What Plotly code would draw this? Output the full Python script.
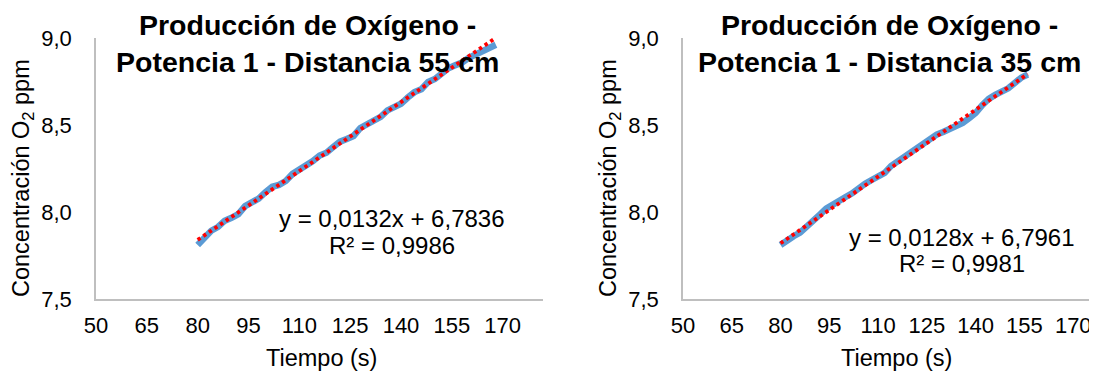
import plotly.graph_objects as go

# The page body has an 8px default margin, so the figure is sized to fill
# the rest of the 1097x374 window; positions below are window pixels.
OFF = 8
W, H = 1097 - OFF, 374 - OFF

# ---------------- data ----------------
TITLE_LEFT = "Producción de Oxígeno -<br>Potencia 1 - Distancia 55 cm"
TITLE_RIGHT = "Producción de Oxígeno -<br>Potencia 1 - Distancia 35 cm"
X_TITLE = "Tiempo (s)"
Y_TITLE = "Concentración O<sub>2</sub> ppm"

X_TICKS = [50, 65, 80, 95, 110, 125, 140, 155, 170]
Y_TICKS = [7.5, 8.0, 8.5, 9.0]

time_55 = [80, 82, 84, 86, 88, 90, 92, 94, 96, 98, 100, 102, 104, 106, 108,
           110, 112, 114, 116, 118, 120, 122, 124, 126, 128, 130, 132, 134,
           136, 138, 140, 142, 144, 146, 148, 150, 152, 154, 156, 158, 160,
           162, 164, 166, 168]
o2_55 = [7.810, 7.856, 7.892, 7.914, 7.950, 7.967, 7.988, 8.034, 8.056, 8.077,
         8.114, 8.145, 8.156, 8.178, 8.219, 8.241, 8.262, 8.293, 8.325, 8.341,
         8.373, 8.404, 8.420, 8.437, 8.483, 8.505, 8.526, 8.547, 8.584, 8.605,
         8.622, 8.658, 8.689, 8.706, 8.747, 8.764, 8.795, 8.826, 8.843, 8.859,
         8.886, 8.907, 8.928, 8.950, 8.961]
slope_55, intercept_55 = 0.0132, 6.7836
eq_55 = "y = 0,0132x + 6,7836"
r2_55 = "R² = 0,9986"

time_35 = [80, 82, 84, 86, 88, 90, 92, 94, 96, 98, 100, 102, 104, 106, 108,
           110, 112, 114, 116, 118, 120, 122, 124, 126, 128, 130, 132, 134,
           136, 138, 140, 142, 144, 146, 148, 150, 152, 154, 156]
o2_35 = [7.810, 7.841, 7.861, 7.882, 7.913, 7.948, 7.984, 8.019, 8.045, 8.061,
         8.086, 8.107, 8.137, 8.163, 8.184, 8.204, 8.225, 8.265, 8.291, 8.317,
         8.347, 8.368, 8.388, 8.419, 8.445, 8.460, 8.476, 8.494, 8.512, 8.540,
         8.569, 8.614, 8.650, 8.673, 8.691, 8.711, 8.742, 8.772, 8.790]
slope_35, intercept_35 = 0.0128, 6.7961
eq_35 = "y = 0,0128x + 6,7961"
r2_35 = "R² = 0,9981"

# ---------------- styling ----------------
FONT = "Liberation Sans, Arial, sans-serif"
BLUE = "#5B9BD5"
RED = "#FF0000"
AXIS_GRAY = "#BFBFBF"
TXT = "#000000"


def px_x(p):
    return (p - OFF) / W


def px_y(p):
    return 1 - (p - OFF) / H


fig = go.Figure()

panels = [
    dict(t=time_55, v=o2_55, s=slope_55, b=intercept_55, xa="x", ya="y"),
    dict(t=time_35, v=o2_35, s=slope_35, b=intercept_35, xa="x2", ya="y2"),
]
for p in panels:
    fig.add_trace(go.Scatter(
        x=p["t"], y=p["v"], mode="lines",
        line=dict(color=BLUE, width=6.5),
        xaxis=p["xa"], yaxis=p["ya"], showlegend=False, hoverinfo="skip"))
    tx = [p["t"][0], p["t"][-1]]
    ty = [p["s"] * x + p["b"] for x in tx]
    fig.add_trace(go.Scatter(
        x=tx, y=ty, mode="lines",
        line=dict(color=RED, width=3.8, dash="3.4px,3.4px"),
        xaxis=p["xa"], yaxis=p["ya"], showlegend=False, hoverinfo="skip"))

ydom = [px_y(299), px_y(38)]
axis_common = dict(
    showgrid=False, zeroline=False, showline=True, linecolor=AXIS_GRAY,
    linewidth=1.5, ticks="", automargin=False,
    tickfont=dict(family=FONT, size=22, color=TXT),
)

fig.update_layout(
    width=W, height=H,
    margin=dict(l=0, r=0, t=0, b=0),
    paper_bgcolor="white", plot_bgcolor="white",
    separators=",.",
    font=dict(family=FONT, color=TXT),
    xaxis=dict(domain=[px_x(96), px_x(543)], range=[50, 181.9],
               tickvals=X_TICKS, anchor="y", ticklabelstandoff=6, **axis_common),
    yaxis=dict(domain=ydom, range=[7.5, 9.0], tickvals=Y_TICKS,
               tickformat=".1f", anchor="x", ticklabelstandoff=18, **axis_common),
    xaxis2=dict(domain=[px_x(683), 1.0], range=[50, 177.3],
                tickvals=X_TICKS, anchor="y2", ticklabelstandoff=6, **axis_common),
    yaxis2=dict(domain=ydom, range=[7.5, 9.0], tickvals=Y_TICKS,
                tickformat=".1f", anchor="x2", ticklabelstandoff=18, **axis_common),
)

ann = []


def add_text(text, x, y, size, bold=False, angle=0):
    ann.append(dict(
        text=f"<b>{text}</b>" if bold else text,
        x=px_x(x), y=px_y(y), xref="paper", yref="paper",
        xanchor="center", yanchor="middle", showarrow=False, textangle=angle,
        font=dict(family=FONT, size=size, color=TXT)))


# titles
add_text(TITLE_LEFT, 307, 43, 28.5, bold=True)
add_text(TITLE_RIGHT, 889, 43, 28.5, bold=True)
# axis titles
add_text(X_TITLE, 321, 358, 23.5)
add_text(X_TITLE, 896, 358, 23.5)
add_text(Y_TITLE, 22, 178, 23.5, angle=-90)
add_text(Y_TITLE, 609, 178, 23.5, angle=-90)
# trendline labels
add_text(eq_55, 392, 218, 24)
add_text(r2_55, 392, 245, 24)
add_text(eq_35, 962, 237, 24)
add_text(r2_35, 962, 263, 24)

fig.update_layout(annotations=ann)
fig.write_html("out.html")
